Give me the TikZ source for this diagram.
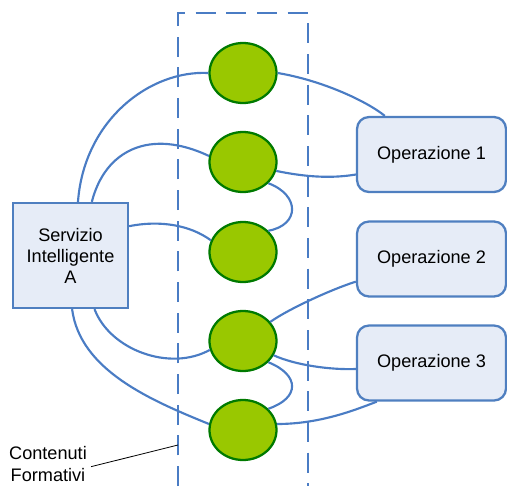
\documentclass[tikz,border=0pt]{standalone}
\usepackage{fontspec}
\setmainfont{Liberation Sans}
\usetikzlibrary{shapes.geometric}
\definecolor{linkblue}{HTML}{4A7CC4}
\definecolor{boxfill}{HTML}{E6ECF7}
\definecolor{boxline}{HTML}{4F7FC0}
\definecolor{dotfill}{HTML}{99C800}
\definecolor{dotline}{HTML}{007A00}
\begin{document}
\begin{tikzpicture}[x=0.75pt,y=-0.75pt,
  txt/.style={font=\fontsize{13.6}{15.8}\selectfont,align=center},
  service/.style={txt,draw=boxline,fill=boxfill,line width=1.7pt,
    minimum width=86.25pt,minimum height=78.75pt,inner sep=0pt},
  opbox/.style={txt,draw=boxline,fill=boxfill,line width=1.7pt,rounded corners=9pt,
    minimum width=111.75pt,minimum height=56.25pt,inner sep=0pt},
  content/.style={ellipse,draw=dotline,fill=dotfill,line width=1.7pt,
    minimum width=50.25pt,minimum height=45pt,inner sep=0pt},
  link/.style={draw=linkblue,line width=1.6pt},
  frame/.style={draw=linkblue,line width=1.9pt,dash pattern=on 15pt off 8pt}]
\useasboundingbox (0,0) rectangle (507,486);

% column of learning contents
\draw[frame] (178,486) -- (178,13) -- (308,13) -- (308,486);

\node[content] (c1) at (243,73) {};
\node[content] (c2) at (243,162) {};
\node[content] (c3) at (243,252) {};
\node[content] (c4) at (243,341) {};
\node[content] (c5) at (243,430) {};

\node[service] (S) at (70.5,255.5) {Servizio\\Intelligente\\A};

\node[opbox] (o1) at (431.5,154.5) {Operazione 1};
\node[opbox] (o2) at (431.5,259) {Operazione 2};
\node[opbox] (o3) at (431.5,363) {Operazione 3};

% service to contents
\path[link] ([xshift=5.6pt]S.north) .. controls (84,120) and (150,70) .. (c1.west);
\path[link] ([xshift=16pt]S.north) .. controls (105,150) and (150,128) .. (c2.170);
\path[link] ([yshift=22pt]S.east) .. controls (160,220) and (190,225) .. (c3.160);
\path[link] ([xshift=18pt]S.south) .. controls (110,350) and (170,372) .. (c4.195);
\path[link] ([xshift=1.2pt]S.south) .. controls (80,370) and (150,400) .. (c5.170);

% contents to operations
\path[link] (c1.east) .. controls (320,80) and (365,100) .. ([xshift=-35pt]o1.north);
\path[link] (c2.345) .. controls (310,178) and (335,178) .. ([yshift=-15pt]o1.west);
\path[link] (c4.35) .. controls (290,308) and (335,288) .. ([yshift=-17pt]o2.west);
\path[link] (c4.335) .. controls (295,365) and (330,370) .. ([yshift=-4.5pt]o3.west);
\path[link] (c5.10) .. controls (320,424) and (355,410) .. ([xshift=-41pt]o3.south);

% links between neighbouring contents
\path[link] (c2.320) .. controls (300,195) and (300,225) .. (c3.40);
\path[link] (c4.320) .. controls (300,375) and (300,398) .. (c5.40);

% caption of the column
\node[txt,inner sep=0pt] (lbl) at (48,464) {Contenuti\\Formativi};
\coordinate (tip) at (178,445);
\draw[black,line width=0.6pt] ([xshift=3pt,yshift=-2pt]lbl.east) -- (tip);
\end{tikzpicture}
\end{document}
